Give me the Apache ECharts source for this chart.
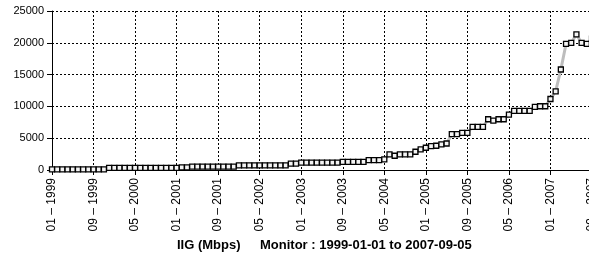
<!DOCTYPE html>
<html>
<head>
<meta charset="utf-8">
<script src="https://cdn.jsdelivr.net/npm/echarts@6/dist/echarts.min.js"></script>
<style>html,body{margin:0;padding:0;background:#fff;}#c{width:589px;height:259px;}</style>
</head>
<body>
<div id="c"></div>
<script>
// Monthly categories 01-1999 .. 09-2007
var startYear = 1999, monthCount = 105;
var categories = [];
for (var k = 0; k < monthCount; k++) {
  var m = (k % 12) + 1, y = startYear + Math.floor(k / 12);
  categories.push((m < 10 ? '0' + m : '' + m) + ' \u2013 ' + y);
}
var bandwidth = [
  100,100,100,100,100,100,100,100,100,100,100,
  330,330,330,330,330,330,330,330,330,330,330,330,330,330,
  420,420,
  520,520,520,520,520,520,520,520,520,
  730,730,730,730,730,730,730,730,730,730,
  1000,1000,
  1150,1150,1150,1150,1150,1150,1150,1150,
  1270,1270,1270,1270,1270,
  1550,1550,1550,
  1670,
  2450,2240,2450,2450,2450,2870,3230,3500,3760,3810,4020,4170,
  5630,5630,5840,5840,6780,6780,6780,7980,7770,7980,7980,
  8710,9290,9290,9290,9290,9910,10020,10020,
  11160,12360,15800,19820,19980,21340,19980,19820,20650
];
var yTicks = [0, 5000, 10000, 15000, 20000, 25000];
var titleMain = 'IIG (Mbps)';
var titleSub = 'Monitor : 1999-01-01 to 2007-09-05';

var font = 'Liberation Sans, Arial, sans-serif';
var chart = echarts.init(document.getElementById('c'), null, {renderer: 'canvas'});
chart.setOption({
  animation: false,
  backgroundColor: '#fff',
  title: [
    {text: titleMain, left: 172, top: 234, textStyle: {fontFamily: font, fontSize: 13, fontWeight: 'bold', color: '#000'}},
    {text: titleSub, left: 255, top: 234, textStyle: {fontFamily: font, fontSize: 13, fontWeight: 'bold', color: '#000'}}
  ],
  grid: {left: 52, top: 11, width: 540, height: 159, outerBoundsMode: 'none', containLabel: false},
  xAxis: {
    type: 'category',
    data: categories,
    boundaryGap: false,
    axisLine: {lineStyle: {color: '#000', width: 1}},
    axisTick: {show: true, interval: 7, length: 5, lineStyle: {color: '#000'}},
    axisLabel: {interval: 7, rotate: 90, margin: 8, fontFamily: font, fontSize: 12, color: '#000', hideOverlap: false},
    splitLine: {show: true, interval: 7, lineStyle: {color: '#000', type: [2, 2], width: 1, opacity: 1}}
  },
  yAxis: {
    type: 'value',
    min: yTicks[0],
    max: yTicks[yTicks.length - 1],
    interval: 5000,
    axisLine: {show: true, lineStyle: {color: '#000', width: 1}},
    axisTick: {show: true, length: 5, lineStyle: {color: '#000'}},
    axisLabel: {margin: 8, fontFamily: font, fontSize: 11, color: '#000', formatter: function (v) { return String(v); }},
    splitLine: {show: true, lineStyle: {color: '#000', type: [2, 2], width: 1, opacity: 1}}
  },
  series: [{
    type: 'line',
    data: bandwidth,
    symbol: 'rect',
    symbolSize: 5,
    showAllSymbol: true,
    clip: false,
    z: 5,
    lineStyle: {color: '#bdbdbd', width: 3},
    itemStyle: {color: '#f4f4f4', borderColor: '#000', borderWidth: 1.3}
  }]
});
</script>
</body>
</html>
